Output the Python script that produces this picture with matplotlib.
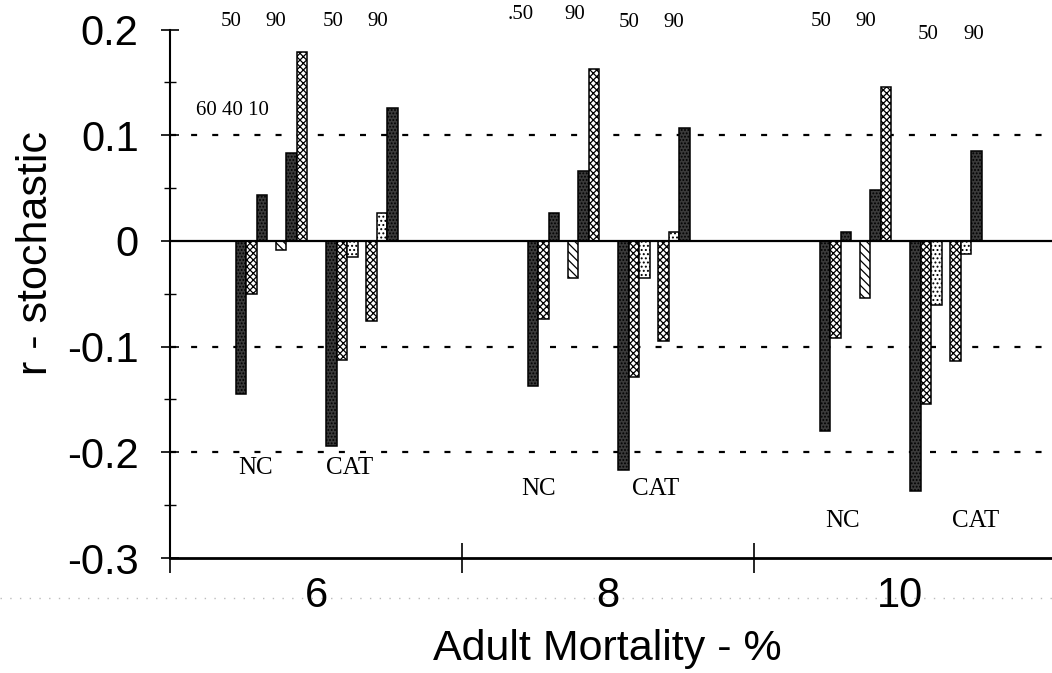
import numpy as np
import matplotlib
matplotlib.use('Agg')
import matplotlib.pyplot as plt

# values: one row per mortality group, bars in plotted order
mortality = [6, 8, 10]
nc_50 = [[-0.145, -0.050, 0.043], [-0.137, -0.074, 0.026], [-0.180, -0.092, 0.008]]
nc_90 = [[-0.009, 0.083, 0.179], [-0.035, 0.066, 0.163], [-0.054, 0.048, 0.146]]
cat_50 = [[-0.194, -0.113, -0.015], [-0.217, -0.129, -0.035], [-0.237, -0.154, -0.061]]
cat_90 = [[-0.076, 0.026, 0.126], [-0.095, 0.008, 0.107], [-0.114, -0.012, 0.085]]
yticks = [-0.3, -0.2, -0.1, 0, 0.1, 0.2]
ytick_labels = ['-0.3', '-0.2', '-0.1', '0', '0.1', '0.2']
top_labels = [['50', '90', '50', '90'], ['.50', '90', '50', '90'], ['50', '90', '50', '90']]

plt.rcParams['hatch.linewidth'] = 0.9
sans = 'Liberation Sans'
serif = 'Liberation Serif'

# bar patterns as they appear in the scan
pat = {
    'dark': dict(facecolor='#3a3a3a', hatch='.....'),
    'check': dict(facecolor='white', hatch='xxxxx'),
    'light': dict(facecolor='white', hatch='....'),
    'diag': dict(facecolor='white', hatch='\\\\\\\\'),
}
subgroups = [
    (nc_50, -0.514, ['dark', 'check', 'dark']),
    (nc_90, -0.240, ['diag', 'dark', 'check']),
    (cat_50, 0.106, ['dark', 'check', 'light']),
    (cat_90, 0.380, ['check', 'light', 'dark']),
]
bw = 0.072

fig = plt.figure(figsize=(10.52, 6.73), dpi=100)
ax = fig.add_axes([170/1052, 115/673, 882/1052, 528.5/673])
ax.set_xlim(5, 11.04)
ax.set_ylim(-0.3, 0.2)

for gi, g in enumerate(mortality):
    for vals, off, styles in subgroups:
        for k in range(3):
            ax.bar(g + off + k*bw, vals[gi][k], width=bw, edgecolor='black',
                   linewidth=1.1, zorder=2, **pat[styles[k]])

for y in [0.1, -0.1, -0.2]:
    ax.axhline(y, color='black', lw=1.6, ls=(0, (2.7, 6.8)), zorder=1)
ax.axhline(0, color='black', lw=1.6, zorder=3)

for s in ['top', 'right']:
    ax.spines[s].set_visible(False)
ax.spines['left'].set_linewidth(1.5)
ax.spines['bottom'].set_linewidth(2)

ax.set_xticks([5, 7, 9])
ax.set_xticklabels(['', '', ''])
ax.set_xticks([6, 8, 10], minor=True)
ax.set_xticklabels(['6', '8', '10'], minor=True, fontsize=30, family=sans)
ax.tick_params(axis='x', which='major', direction='inout', length=21, width=1.2)
ax.tick_params(axis='x', which='minor', length=0, pad=13)

ax.set_yticks(yticks)
ax.set_yticklabels(ytick_labels, fontsize=30, family=sans)
ax.set_yticks(np.arange(-0.25, 0.2, 0.1), minor=True)
ax.tick_params(axis='y', which='major', direction='inout', length=13, width=1.2, pad=16)
ax.tick_params(axis='y', which='minor', direction='inout', length=8, width=1.0)

# labels above the bar clusters
tx = [[231, 276, 333.5, 378], [521, 575, 629, 674], [821.5, 866, 927.5, 974]]
ty = [[22, 22, 22, 22], [14.5, 14.5, 22.5, 22.5], [22, 22, 34.5, 34.5]]
for gi in range(3):
    for j in range(4):
        ax.text(5 + (tx[gi][j] - 170)/146, (241 - ty[gi][j])/1057, top_labels[gi][j],
                ha='center', va='center', fontsize=15, family=serif, clip_on=False)
ax.text(5 + (232.5 - 170)/146, (241 - 110.5)/1057, '60 40 10', ha='center', va='center',
        fontsize=15, family=serif)

# NC / CAT labels under each group
nc_xy = [(256, 468), (538, 489), (842.5, 521.5)]
cat_xy = [(350, 468), (656, 489), (975, 521.5)]
for (nx, ny), (cx, cy) in zip(nc_xy, cat_xy):
    ax.text(5 + (nx - 170)/146, (241 - ny)/1057, 'NC', ha='center', va='center',
            fontsize=18, family=serif)
    ax.text(5 + (cx - 170)/146, (241 - cy)/1057, 'CAT', ha='center', va='center',
            fontsize=18, family=serif)

fig.text(36/1052, 1 - 253/673, 'r - stochastic', rotation=90, ha='center', va='center',
         fontsize=31, family=sans)
fig.text(607/1052, 13/673, 'Adult Mortality - %', ha='center', va='baseline',
         fontsize=31, family=sans)

# faint dotted scan line through the tick labels
fig.add_artist(plt.Line2D([0, 1], [1 - 598/673, 1 - 598/673], color='#bbbbbb',
                          lw=1, ls=(0, (1, 6)), zorder=0))

fig.savefig('out.png', dpi=100)
